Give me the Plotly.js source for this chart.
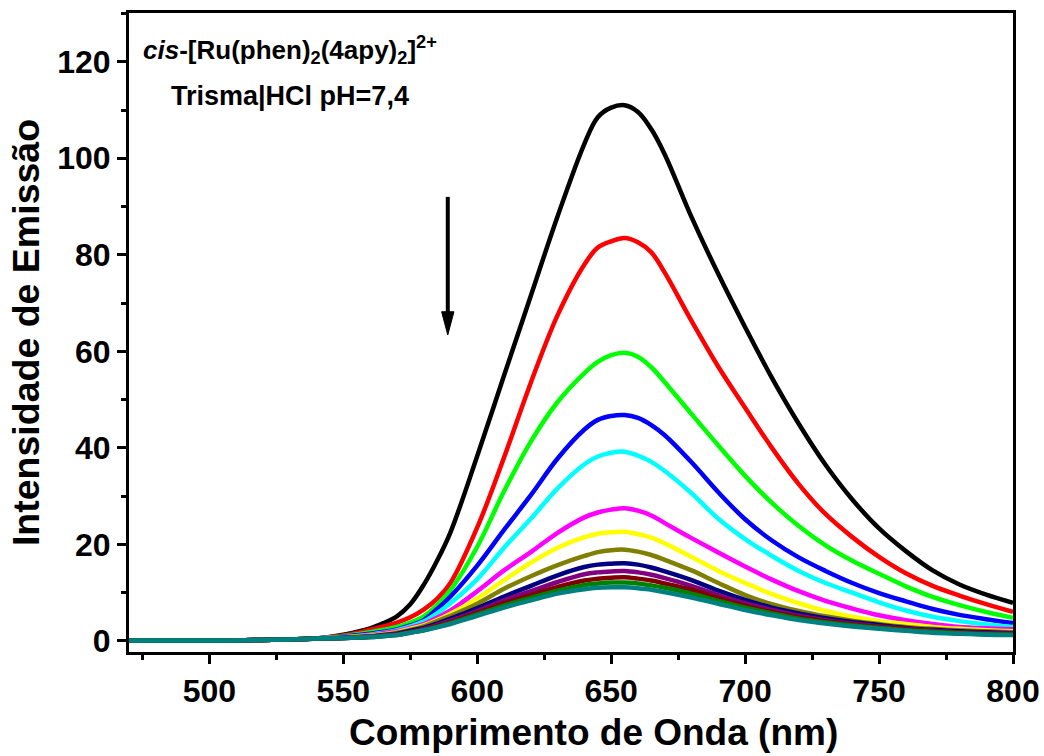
<!DOCTYPE html>
<html>
<head>
<meta charset="utf-8">
<script src="https://cdn.plot.ly/plotly-3.0.1.min.js"></script>
<style>html,body{margin:0;padding:0;background:#fff;}#chart{width:1044px;height:756px;}</style>
</head>
<body>
<div id="chart"></div>
<script>
// Wavelength (nm)
const wavelength = [470,480,490,500,510,520,530,540,550,560,565,570,575,580,585,590,600,610,620,630,640,645,650,655,660,665,670,680,690,700,710,720,730,740,750,760,770,780,790,800];

// Emission intensity series (titration, top to bottom)
const sBlack   = [0.1,0.1,0.1,0.1,0.1,0.2,0.3,0.5,1.3,2.6,3.7,5.1,7.6,11.6,16.6,22.5,38.3,55.0,71.5,88.0,103.0,108.5,110.5,111.0,109.6,106.0,100.8,87.8,76.0,65.0,54.5,45.0,36.5,29.3,23.3,18.6,14.6,11.7,9.6,7.9];
const sRed     = [0.1,0.1,0.1,0.1,0.1,0.2,0.3,0.5,1.1,2.3,3.0,3.8,4.9,6.5,8.7,12.0,23.5,38.0,53.5,67.5,78.0,81.5,82.8,83.5,82.6,80.5,76.3,66.3,56.8,48.3,40.0,32.5,26.3,21.5,17.4,14.0,11.4,9.4,7.6,6.0];
const sLime    = [0.1,0.1,0.1,0.1,0.1,0.2,0.3,0.5,1.0,1.8,2.3,2.9,3.8,5.1,7.4,10.5,19.5,31.0,41.3,49.5,55.5,57.8,59.2,59.7,58.9,56.7,53.6,47.0,40.5,34.2,28.6,23.8,19.8,16.6,13.9,11.3,9.1,7.4,6.0,4.8];
const sBlue    = [0.1,0.1,0.1,0.1,0.1,0.2,0.3,0.5,0.9,1.5,1.9,2.4,3.2,4.3,6.6,9.2,15.6,23.0,30.2,37.8,43.8,45.8,46.6,46.8,46.2,44.7,42.6,37.0,30.8,25.2,20.8,17.3,14.5,12.0,9.9,8.2,6.6,5.4,4.5,3.7];
const sCyan    = [0.1,0.1,0.1,0.1,0.1,0.2,0.3,0.5,0.8,1.3,1.7,2.2,3.0,4.0,5.7,7.8,12.8,19.3,25.3,31.6,36.6,38.2,39.0,39.2,38.4,37.1,35.2,30.6,25.3,21.1,17.6,14.5,12.0,10.0,8.0,6.3,5.0,4.1,3.4,2.9];
const sMagenta = [0.1,0.1,0.1,0.1,0.1,0.2,0.3,0.5,0.8,1.2,1.6,2.0,2.7,3.5,4.8,6.3,10.3,14.6,18.4,22.4,25.6,26.6,27.2,27.5,27.0,26.0,24.4,21.3,18.3,15.4,12.7,10.3,8.3,6.7,5.3,4.3,3.5,2.9,2.6,2.4];
const sYellow  = [0.1,0.1,0.1,0.1,0.1,0.2,0.3,0.5,0.7,1.1,1.4,1.8,2.5,3.2,4.3,5.6,8.8,12.6,16.2,19.3,21.5,22.2,22.5,22.6,22.1,21.4,20.2,17.4,14.5,12.0,9.7,7.8,6.2,5.0,4.1,3.5,2.9,2.5,2.2,2.0];
const sOlive   = [0.1,0.1,0.1,0.1,0.1,0.2,0.3,0.5,0.7,1.0,1.3,1.7,2.3,3.0,4.1,5.2,7.7,10.8,13.4,15.7,17.6,18.4,18.8,18.9,18.5,17.8,16.8,14.6,12.0,9.5,7.6,6.2,5.1,4.2,3.5,2.9,2.5,2.2,2.0,1.8];
const sNavy    = [0.1,0.1,0.1,0.1,0.1,0.2,0.3,0.5,0.6,0.9,1.2,1.5,2.1,2.7,3.6,4.6,6.8,9.2,11.4,13.6,15.3,15.8,16.0,16.1,15.8,15.2,14.4,12.6,10.4,8.5,6.9,5.7,4.7,3.9,3.3,2.7,2.3,2.0,1.8,1.6];
const sPurple  = [0.1,0.1,0.1,0.1,0.1,0.2,0.3,0.5,0.6,0.9,1.1,1.4,1.9,2.5,3.3,4.2,6.2,8.4,10.3,12.2,13.8,14.2,14.4,14.5,14.2,13.7,13.0,11.4,9.5,7.8,6.4,5.2,4.3,3.6,3.0,2.5,2.1,1.8,1.6,1.5];
const sMaroon  = [0.1,0.1,0.1,0.1,0.1,0.2,0.3,0.5,0.6,0.8,1.0,1.3,1.8,2.3,3.1,3.9,5.8,7.8,9.5,11.2,12.5,12.9,13.1,13.2,12.9,12.5,11.9,10.6,8.9,7.3,6.0,4.9,4.1,3.4,2.9,2.4,2.0,1.7,1.5,1.4];
const sGreen   = [0.1,0.1,0.1,0.1,0.1,0.2,0.3,0.5,0.6,0.8,1.0,1.2,1.7,2.2,2.9,3.7,5.5,7.3,8.9,10.4,11.6,11.9,12.1,12.1,11.9,11.5,11.0,9.8,8.3,6.9,5.7,4.6,3.8,3.2,2.7,2.2,1.9,1.6,1.4,1.3];
const sTeal    = [0.1,0.1,0.1,0.1,0.1,0.2,0.3,0.5,0.6,0.8,1.0,1.2,1.7,2.2,2.8,3.5,5.2,6.9,8.4,9.8,10.7,11.0,11.1,11.1,10.9,10.6,10.1,9.0,7.7,6.4,5.3,4.3,3.6,3.0,2.5,2.1,1.7,1.5,1.3,1.2];

const seriesList = [sBlack,sRed,sLime,sBlue,sCyan,sMagenta,sYellow,sOlive,sNavy,sPurple,sMaroon,sGreen,sTeal];
const colors = ['#000000','#ff0000','#00ff00','#0000ff','#00ffff','#ff00ff','#ffff00','#808000','#000080','#800080','#800000','#008000','#008080'];

const xTickVals = [500,550,600,650,700,750,800];
const yTickVals = [0,20,40,60,80,100,120];

// arrow annotation (data coordinates)
const arrowX = 589, arrowTop = 92, arrowTip = 63.4;

const FONT = 'Arial, "Liberation Sans", sans-serif';

const traces = seriesList.map((s,i)=>({
  x: wavelength, y: s, type:'scatter', mode:'lines',
  line:{color:colors[i], width:4.5, shape:'spline', smoothing:1},
  showlegend:false, hoverinfo:'skip'
}));

const axisCommon = {
  showline:true, linewidth:3, linecolor:'#000', mirror:true,
  showgrid:false, zeroline:false,
  ticks:'outside', ticklen:9, tickwidth:3, tickcolor:'#000',
  tickfont:{family:FONT, size:32, color:'#000', weight:'bold'}
};

const headHalfW = 2.3, headLen = 4.8; // arrowhead size in data units
const headPath = `M${arrowX-headHalfW},${arrowTip+headLen} L${arrowX+headHalfW},${arrowTip+headLen} L${arrowX},${arrowTip} Z`;

const layout = {
  width:1044, height:756,
  margin:{l:129, r:31, t:13, b:104},
  paper_bgcolor:'#fff', plot_bgcolor:'#fff',
  xaxis: Object.assign({}, axisCommon, {
    range:[470,800], tickvals:xTickVals,
    minor:{dtick:25, tick0:475, ticks:'outside', ticklen:5, tickwidth:3, tickcolor:'#000'}
  }),
  yaxis: Object.assign({}, axisCommon, {
    range:[-2.3,130.1], tickvals:yTickVals,
    minor:{dtick:10, tick0:0, ticks:'outside', ticklen:5, tickwidth:3, tickcolor:'#000'},
    title:{text:'Intensidade de Emissão', font:{family:FONT, size:37.5, color:'#000', weight:'bold'}, standoff:7}
  }),
  annotations:[
    {xref:'paper', yref:'paper', x:0.525, y:-0.161, xanchor:'center', yanchor:'bottom', showarrow:false,
     text:'Comprimento de Onda (nm)',
     font:{family:FONT, size:37, color:'#000', weight:'bold'}},
    {xref:'paper', yref:'paper', x:0.182, y:0.942, xanchor:'center', yanchor:'middle', showarrow:false,
     text:'<i>cis</i>-[Ru(phen)<sub>2</sub>(4apy)<sub>2</sub>]<sup>2+</sup>',
     font:{family:FONT, size:26, color:'#000', weight:'bold'}},
    {xref:'paper', yref:'paper', x:0.182, y:0.870, xanchor:'center', yanchor:'middle', showarrow:false,
     text:'Trisma|HCl pH=7,4',
     font:{family:FONT, size:27, color:'#000', weight:'bold'}}
  ],
  shapes:[
    {type:'line', xref:'x', yref:'y', x0:arrowX, x1:arrowX, y0:arrowTop, y1:arrowTip+headLen-0.3, line:{color:'#000', width:4}},
    {type:'path', xref:'x', yref:'y', path:headPath, fillcolor:'#000', line:{color:'#000', width:1}}
  ]
};

Plotly.newPlot('chart', traces, layout, {displayModeBar:false, staticPlot:true});
</script>
</body>
</html>
